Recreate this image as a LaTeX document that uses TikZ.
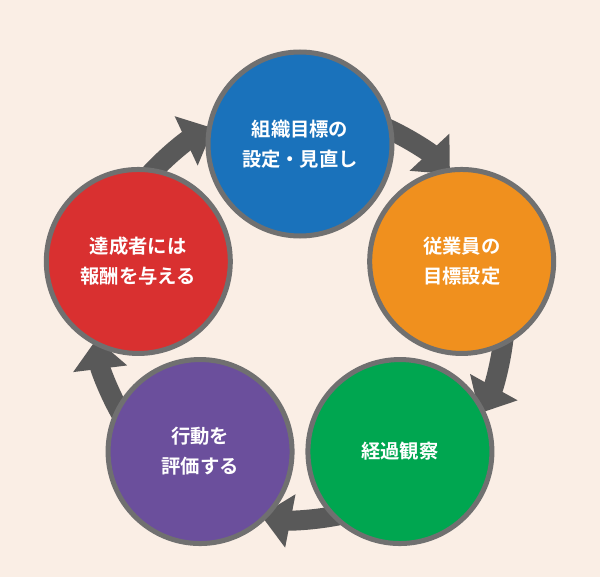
\documentclass[tikz,border=0pt]{standalone}
\usepackage{fontspec}
\newfontfamily\jp{Noto Sans CJK JP}[BoldFont={* Bold}]
\usetikzlibrary{arrows.meta}
\definecolor{bgpeach}{HTML}{FAEEE5}
\definecolor{ringgray}{HTML}{707070}
\definecolor{arrowgray}{HTML}{595959}
\definecolor{cblue}{HTML}{1A72BB}
\definecolor{corange}{HTML}{F0901E}
\definecolor{cgreen}{HTML}{00A650}
\definecolor{cpurple}{HTML}{6B4F9C}
\definecolor{cred}{HTML}{D93030}
\tikzset{
  stage/.style={circle, draw=ringgray, line width=0.1cm, minimum size=3.68cm,
    text=white, align=center, font=\jp\bfseries\fontsize{11}{17}\selectfont},
  cyclearrow/.style={arrowgray, line width=0.4cm,
    -{Triangle[length=0.6cm,width=1.05cm]}}
}
\begin{document}
\begin{tikzpicture}
  \fill[bgpeach] (-6,6.28) rectangle (6,-5.26);
  \useasboundingbox (-6,6.28) rectangle (6,-5.26);
  \coordinate (mid) at (0,0);
  % arrows between stages
  \foreach \a in {90,18,-54,-126,162}{
    \draw[cyclearrow] (mid) ++(\a-22:4.1cm) arc[start angle=\a-22, end angle=\a-47, radius=4.1cm];
  }
  % stages
  \node[stage, fill=cblue] (goal) at (90:3.4) {組織目標の\\設定・見直し};
  \node[stage, fill=corange] (staff) at (18:3.4) {従業員の\\目標設定};
  \node[stage, fill=cgreen] (watch) at (-54:3.4) {経過観察};
  \node[stage, fill=cpurple] (rate) at (-126:3.4) {行動を\\評価する};
  \node[stage, fill=cred] (reward) at (162:3.4) {達成者には\\報酬を与える};
\end{tikzpicture}
\end{document}
